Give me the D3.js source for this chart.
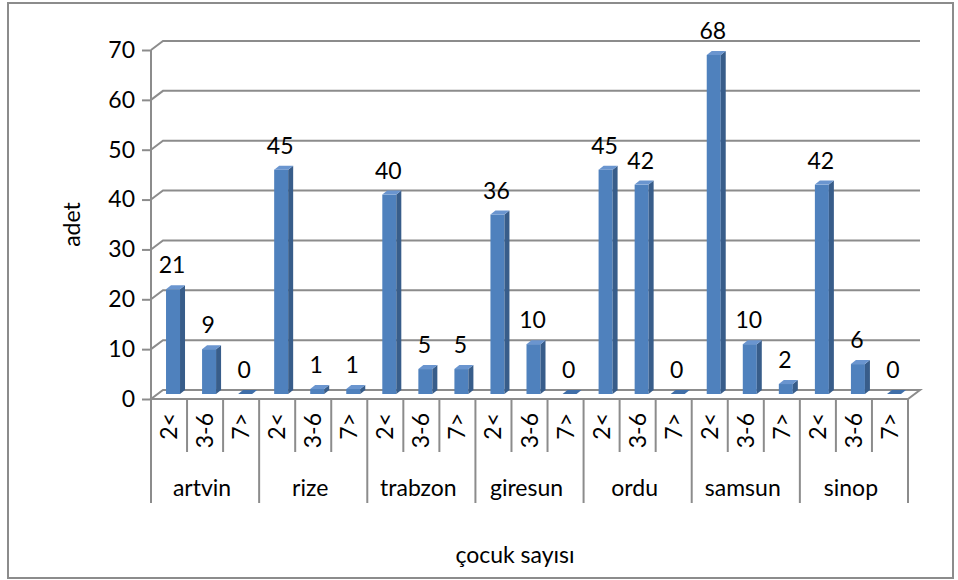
<!DOCTYPE html>
<html>
<head>
<meta charset="utf-8">
<script src="https://cdn.jsdelivr.net/npm/d3@7"></script>
<style>
  html, body { margin: 0; padding: 0; background: #fff; }
  svg { display: block; }
  text { font-family: Lato, "Open Sans", "Liberation Sans", sans-serif; fill: #000; }
</style>
</head>
<body>
<svg id="chart" width="958" height="580"></svg>
<script>
// Families (cities) and the child-count classes within each
const cities = ["artvin", "rize", "trabzon", "giresun", "ordu", "samsun", "sinop"];
const classes = ["2<", "3-6", "7>"];
// Number of families per class, in the same order as cities
const counts2 = [21, 45, 40, 36, 45, 68, 42];
const counts36 = [9, 1, 5, 10, 42, 10, 6];
const counts7 = [0, 1, 5, 0, 0, 2, 0];
const yTicks = [0, 10, 20, 30, 40, 50, 60, 70];

const rows = [];
cities.forEach((c, i) => {
  [counts2[i], counts36[i], counts7[i]].forEach((v, j) => {
    rows.push({ key: c + "|" + classes[j], city: c, cls: classes[j], value: v });
  });
});

const svg = d3.select("#chart");
const pLeft = 151, pRight = 908, pTop = 50, pBottom = 399;
const dx = 12, dy = -9;          // depth of the back wall
const grid = "#8c8c8c";
const fs = 23;

const x = d3.scaleBand().domain(rows.map(d => d.key)).range([pLeft, pRight]).padding(0);
const y = d3.scaleLinear().domain([0, 70]).range([pBottom, pTop]);

// outer frame
svg.append("rect").attr("x", 8).attr("y", 3).attr("width", 945).attr("height", 575)
  .attr("fill", "none").attr("stroke", grid).attr("stroke-width", 2);

// floor
const floor = [[pLeft, pBottom], [pRight, pBottom], [pRight + dx, pBottom + dy], [pLeft + dx, pBottom + dy]];
svg.append("path").attr("d", "M" + floor.join("L") + "Z")
  .attr("fill", "#fff").attr("stroke", grid).attr("stroke-width", 2);

// gridlines: back wall lines plus the diagonal on the side wall
const gl = svg.append("g");
yTicks.filter(t => t > 0).forEach(t => {
  gl.append("path")
    .attr("d", `M${pLeft},${y(t)}L${pLeft + dx},${y(t) + dy}L${pRight + dx},${y(t) + dy}`)
    .attr("fill", "none").attr("stroke", grid).attr("stroke-width", 2);
});

// y axis
const yAxis = d3.axisLeft(y).tickValues(yTicks).tickSize(9).tickPadding(7);
const ya = svg.append("g").attr("transform", `translate(${pLeft},0)`).call(yAxis);
ya.select(".domain").attr("stroke", grid).attr("stroke-width", 2).attr("d", `M0,${pBottom}V${pTop}`);
ya.selectAll(".tick line").attr("stroke", grid).attr("stroke-width", 2);
ya.selectAll(".tick text").attr("font-size", fs).attr("font-family", "Lato, sans-serif").attr("fill", "#000");

// 3D bars
const bw = 14, bd = 5, br = -4;   // face width, side depth, top rise
const off = 4, lift = -5;         // bars sit halfway into the depth
const bars = svg.append("g");
rows.forEach(d => {
  const cx = x(d.key) + x.bandwidth() / 2 + off;
  const x0 = cx - bw / 2, x1 = cx + bw / 2;
  const yb = y(0) + lift, yt = y(d.value) + lift;
  if (d.value > 0) {
    bars.append("rect").attr("x", x0).attr("y", yt).attr("width", bw).attr("height", yb - yt)
      .attr("fill", "#4f81bd");
    bars.append("path")
      .attr("d", `M${x1},${yt}L${x1 + bd},${yt + br}L${x1 + bd},${yb + br}L${x1},${yb}Z`)
      .attr("fill", "#385d8a");
  }
  bars.append("path")
    .attr("d", `M${x0},${yt}L${x0 + bd},${yt + br}L${x1 + bd},${yt + br}L${x1},${yt}Z`)
    .attr("fill", d.value > 0 ? "#6a95cf" : "#3f6ea8");
  svg.append("text").attr("x", cx - 1).attr("y", yt - 16)
    .attr("text-anchor", "middle").attr("font-size", fs).text(d.value);
});

// category axis: class ticks and city ticks
const ax = svg.append("g");
const bw0 = x.bandwidth();
rows.forEach((d, i) => {
  const xl = x(d.key);
  const long = i % 3 === 0;
  ax.append("line").attr("x1", xl).attr("x2", xl).attr("y1", pBottom).attr("y2", long ? 503 : 452)
    .attr("stroke", grid).attr("stroke-width", 2);
  ax.append("text")
    .attr("transform", `translate(${xl + bw0 / 2 + 8},413) rotate(-90)`)
    .attr("text-anchor", "end").attr("font-size", fs).text(d.cls);
});
ax.append("line").attr("x1", pRight).attr("x2", pRight).attr("y1", pBottom).attr("y2", 503)
  .attr("stroke", grid).attr("stroke-width", 2);
cities.forEach(c => {
  const xc = x(c + "|" + classes[1]) + bw0 / 2;
  ax.append("text").attr("x", xc - 3).attr("y", 496).attr("text-anchor", "middle")
    .attr("font-size", fs).text(c);
});

// axis titles
svg.append("text").attr("x", 515).attr("y", 563).attr("text-anchor", "middle")
  .attr("font-size", fs).text("çocuk sayısı");
svg.append("text").attr("transform", `translate(80,${(pTop + pBottom) / 2}) rotate(-90)`)
  .attr("text-anchor", "middle").attr("font-size", fs).text("adet");
</script>
</body>
</html>
